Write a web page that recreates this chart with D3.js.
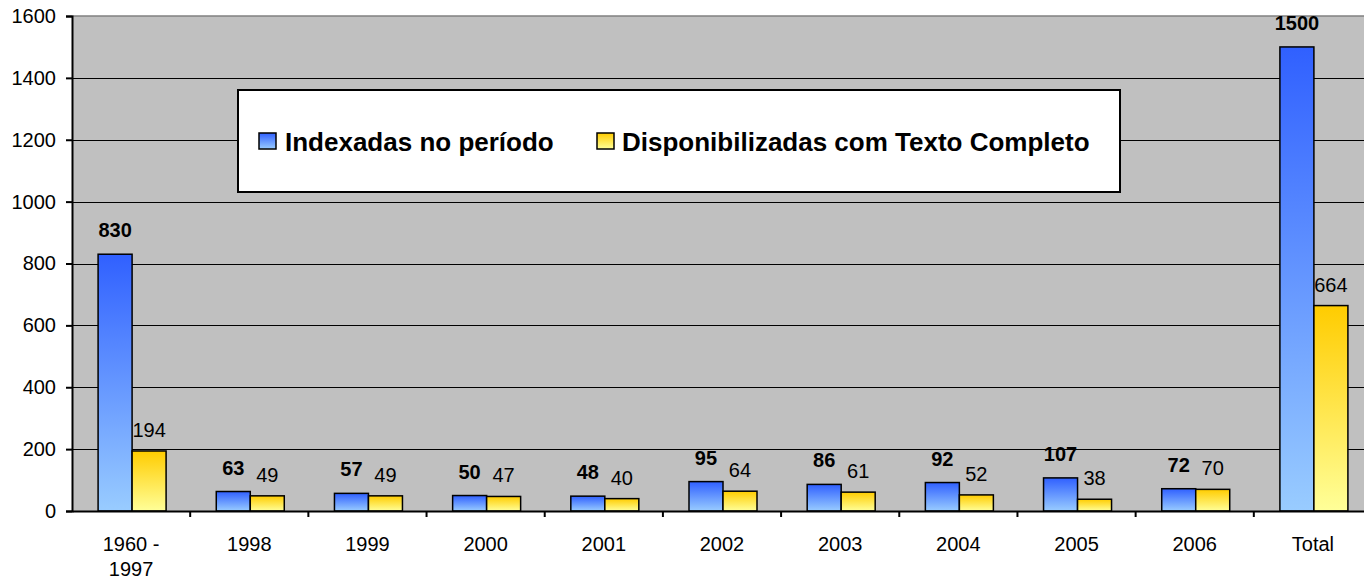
<!DOCTYPE html>
<html>
<head>
<meta charset="utf-8">
<script src="https://cdn.jsdelivr.net/npm/d3@7"></script>
<style>
  html, body { margin: 0; padding: 0; background: #fff; }
  svg { display: block; font-family: "Liberation Sans", Arial, sans-serif; }
</style>
</head>
<body>
<svg id="chart" width="1364" height="579"></svg>
<script>
const categories = ['1960 - 1997', '1998', '1999', '2000', '2001', '2002', '2003', '2004', '2005', '2006', 'Total'];
const categoryLines = [['1960 -', '1997'], ['1998'], ['1999'], ['2000'], ['2001'], ['2002'], ['2003'], ['2004'], ['2005'], ['2006'], ['Total']];
const indexadas = [830, 63, 57, 50, 48, 95, 86, 92, 107, 72, 1500];
const disponibilizadas = [194, 49, 49, 47, 40, 64, 61, 52, 38, 70, 664];
const seriesNames = ['Indexadas no período', 'Disponibilizadas com Texto Completo'];
const yTicks = [0, 200, 400, 600, 800, 1000, 1200, 1400, 1600];

const svg = d3.select('#chart');
const plotLeft = 72, plotRight = 1372, plotTop = 16, plotBottom = 511;
const fontFamily = '"Liberation Sans", Arial, sans-serif';

const defs = svg.append('defs');
function gradient(id, topColor, bottomColor) {
    const g = defs.append('linearGradient').attr('id', id)
        .attr('x1', 0).attr('y1', 0).attr('x2', 0).attr('y2', 1);
    g.append('stop').attr('offset', '0%').attr('stop-color', topColor);
    g.append('stop').attr('offset', '100%').attr('stop-color', bottomColor);
}
gradient('gradBlue', '#3060ff', '#99ccff');
gradient('gradYellow', '#ffcc00', '#ffff99');
const fills = ['url(#gradBlue)', 'url(#gradYellow)'];

const x = d3.scaleBand().domain(categories).range([plotLeft, plotRight]);
const y = d3.scaleLinear().domain([0, 1600]).range([plotBottom, plotTop]);
const sub = d3.scaleBand().domain([0, 1])
    .range([x.bandwidth() / 2 - 33, x.bandwidth() / 2 + 35]);

// plot background
svg.append('rect')
    .attr('x', plotLeft).attr('y', plotTop)
    .attr('width', plotRight - plotLeft).attr('height', plotBottom - plotTop)
    .attr('fill', '#c0c0c0');

// gridlines
svg.append('g').selectAll('line')
    .data(yTicks.filter(t => t > 0 && t < 1600))
    .enter().append('line')
    .attr('x1', plotLeft).attr('x2', plotRight)
    .attr('y1', d => Math.round(y(d)) + 0.5).attr('y2', d => Math.round(y(d)) + 0.5)
    .attr('stroke', '#000').attr('stroke-width', 1);

svg.append('line')
    .attr('x1', plotLeft).attr('x2', plotRight)
    .attr('y1', plotTop).attr('y2', plotTop)
    .attr('stroke', '#808080').attr('stroke-width', 1.5);

// bars
const rows = categories.map((c, i) => ({ cat: c, vals: [indexadas[i], disponibilizadas[i]] }));
const groups = svg.append('g').selectAll('g')
    .data(rows)
    .enter().append('g')
    .attr('transform', d => `translate(${x(d.cat)},0)`);

groups.selectAll('rect')
    .data(d => d.vals.map((v, k) => ({ v, k })))
    .enter().append('rect')
    .attr('x', d => sub(d.k))
    .attr('y', d => y(d.v))
    .attr('width', sub.bandwidth())
    .attr('height', d => y(0) - y(d.v))
    .attr('fill', d => fills[d.k])
    .attr('stroke', '#000')
    .attr('stroke-width', 1.5);

groups.selectAll('text.val')
    .data(d => d.vals.map((v, k) => ({ v, k })))
    .enter().append('text')
    .attr('class', 'val')
    .attr('x', d => sub(d.k) + sub.bandwidth() / 2)
    .attr('y', d => y(d.v) - (d.k === 0 ? 17 : 14))
    .attr('text-anchor', 'middle')
    .attr('font-size', 20)
    .attr('font-weight', d => d.k === 0 ? 'bold' : 'normal')
    .attr('fill', '#000')
    .text(d => d.v);

// y axis
const yAxis = svg.append('g')
    .attr('transform', `translate(${plotLeft},0)`)
    .call(d3.axisLeft(y).tickValues(yTicks).tickFormat(d3.format('d')).tickSize(6).tickPadding(10));
yAxis.select('.domain').attr('stroke', '#000').attr('stroke-width', 2);
yAxis.selectAll('.tick line').attr('stroke', '#000').attr('stroke-width', 2);
yAxis.selectAll('.tick text')
    .attr('font-size', 20).attr('fill', '#000')
    .attr('font-family', fontFamily);

// x axis
const xAxis = svg.append('g')
    .attr('transform', `translate(0,${plotBottom})`)
    .call(d3.axisBottom(x).tickSize(0).tickFormat(''));
xAxis.select('.domain').attr('stroke', '#000').attr('stroke-width', 2);

svg.append('g').selectAll('line')
    .data(categories.slice(1))
    .enter().append('line')
    .attr('x1', d => x(d)).attr('x2', d => x(d))
    .attr('y1', plotBottom).attr('y2', plotBottom + 6)
    .attr('stroke', '#000').attr('stroke-width', 2);

svg.append('g').selectAll('text')
    .data(categories)
    .enter().append('text')
    .attr('x', d => x(d) + x.bandwidth() / 2)
    .attr('y', 551)
    .attr('text-anchor', 'middle')
    .attr('font-size', 20)
    .attr('fill', '#000')
    .each(function (d, i) {
        const t = d3.select(this);
        categoryLines[i].forEach((line, j) => {
            t.append('tspan')
                .attr('x', x(d) + x.bandwidth() / 2)
                .attr('dy', j === 0 ? 0 : 25)
                .text(line);
        });
    });

// legend
const legend = svg.append('g');
legend.append('rect')
    .attr('x', 238).attr('y', 90)
    .attr('width', 882).attr('height', 102)
    .attr('fill', '#fff').attr('stroke', '#000').attr('stroke-width', 2);

const legendItems = [
    { name: seriesNames[0], sx: 259, tx: 285 },
    { name: seriesNames[1], sx: 597, tx: 622 }
];
legendItems.forEach((it, k) => {
    legend.append('rect')
        .attr('x', it.sx).attr('y', 133)
        .attr('width', 17).attr('height', 16)
        .attr('fill', fills[k]).attr('stroke', '#000').attr('stroke-width', 1.5);
    legend.append('text')
        .attr('x', it.tx).attr('y', 151)
        .attr('font-size', 26).attr('font-weight', 'bold')
        .attr('fill', '#000')
        .text(it.name);
});
</script>
</body>
</html>
